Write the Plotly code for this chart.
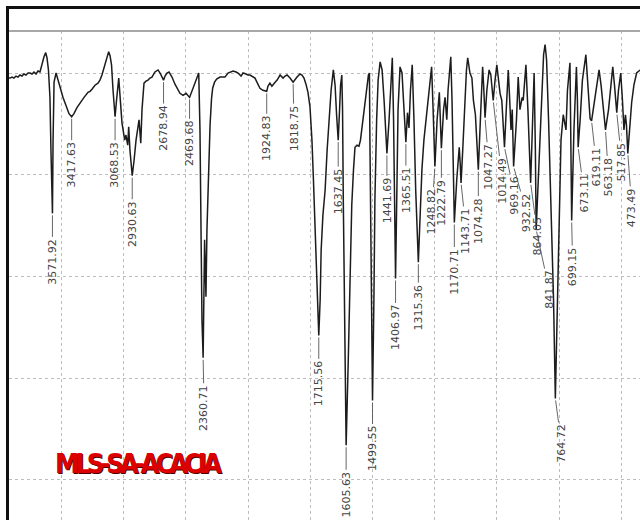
import numpy as np
import plotly.graph_objects as go

# FT-IR spectrum: wavenumber (cm-1) and transmittance (%T), high to low wavenumber
wavenumber = [
    3921, 3913, 3897, 3881, 3865, 3849, 3833, 3817, 3801, 3785, 3768, 3752, 3736, 3720,
    3704, 3688, 3672, 3656, 3640, 3626, 3616, 3604, 3592, 3584, 3571.92, 3567, 3559, 3543,
    3527, 3511, 3487, 3463, 3439, 3417.63, 3399, 3375, 3350, 3318, 3286, 3270, 3254, 3230,
    3206, 3190, 3174, 3158, 3141, 3120, 3109, 3097, 3085, 3068.53, 3057, 3039, 3029, 3013,
    2991, 2981, 2967, 2959, 2949, 2930.63, 2916, 2900, 2876, 2862, 2852, 2844, 2836, 2820,
    2804, 2788, 2772, 2748, 2731, 2723, 2707, 2678.94, 2667, 2651, 2635, 2611, 2587, 2571,
    2547, 2522, 2498, 2469.68, 2450, 2426, 2396, 2386, 2378, 2370, 2360.71, 2354, 2349, 2343,
    2338, 2330, 2317, 2305, 2293, 2284, 2269, 2252, 2225, 2185, 2161, 2145, 2120, 2096,
    2080, 2056, 2040, 2016, 2000,
    1992, 1972, 1952, 1940, 1924.83, 1920, 1912, 1904, 1891, 1883, 1871, 1859, 1851, 1843,
    1831, 1823, 1818.75, 1803, 1791, 1783, 1775, 1767, 1759, 1751, 1743, 1737, 1731, 1725,
    1715.56, 1710, 1706, 1699, 1690, 1682, 1674, 1666, 1657, 1650, 1644, 1637.45, 1632, 1628,
    1623, 1620, 1617, 1610, 1605.63, 1597, 1590, 1583, 1576, 1570, 1562, 1554, 1548, 1537,
    1526, 1516, 1512, 1510, 1505, 1499.55, 1494, 1490, 1483, 1477, 1469, 1461, 1453, 1447,
    1441.69, 1433, 1425, 1420, 1415, 1411, 1406.97, 1401, 1397, 1389, 1381, 1375, 1365.51,
    1359, 1353, 1347, 1340, 1333, 1326, 1315.36, 1309, 1301, 1293, 1282, 1273, 1262, 1256,
    1248.82, 1240, 1231, 1222.79, 1214, 1208, 1201, 1196, 1185, 1180, 1175, 1170.71, 1161,
    1151, 1147, 1143.71, 1137, 1128, 1122, 1117, 1112, 1108, 1100, 1094, 1086, 1080, 1074.28,
    1066, 1057, 1053, 1047.27, 1040, 1031, 1024, 1014.49, 1007, 1000, 993, 987, 980, 974,
    969.16, 962, 954, 949, 943, 938, 935, 932.52, 921, 914, 907, 898, 894, 883, 875, 869,
    864.05, 856, 850, 845, 841.87, 830, 820, 812, 806, 800, 792, 784, 778, 772, 764.72, 758,
    754, 748, 742, 733, 726, 722, 716, 706, 703, 699.15, 690, 680, 676, 673.11, 665, 656,
    642, 634, 625, 619.11, 609, 599, 589, 581, 572, 567, 563.18, 551, 543, 534, 527, 517.85,
    511, 502, 495, 489, 483, 479, 473.49, 465, 458, 449, 438, 424,
]
transmittance = [
    49.5, 49.5, 49.6, 49.5, 49.7, 49.6, 49.8, 49.7, 49.9, 49.8, 50.0, 50.0, 49.9, 50.1,
    49.9, 50.2, 50.1, 51.0, 51.6, 52.0, 51.5, 50.3, 47.6, 42.4, 36.2, 43.4, 49.1, 50.0,
    49.3, 48.5, 47.6, 46.8, 46.0, 45.7, 46.0, 46.6, 47.1, 47.6, 48.1, 48.2, 48.4, 48.8,
    49.0, 49.3, 49.8, 50.5, 51.1, 52.1, 51.7, 50.8, 48.3, 45.7, 47.3, 49.5, 47.8, 45.1,
    43.4, 43.9, 42.9, 44.7, 42.4, 39.9, 41.4, 43.4, 45.4, 43.1, 46.4, 48.3, 49.0, 49.2,
    49.3, 49.5, 49.6, 50.1, 50.2, 50.3, 50.0, 49.3, 49.7, 50.0, 50.1, 49.6, 48.9, 48.5,
    48.0, 47.8, 48.0, 47.6, 48.2, 49.1, 50.0, 44.4, 34.6, 25.7, 22.0, 27.7, 33.6, 30.6,
    28.0, 34.6, 40.5, 44.9, 47.5, 48.5, 49.1, 49.4, 49.6, 49.6, 50.0, 50.1, 50.2, 50.1,
    50.0, 49.7, 50.0, 49.9, 49.8,
    49.8, 49.5, 48.5, 48.3, 48.2, 48.7, 49.0, 48.7, 49.1, 49.3, 49.8, 49.5, 49.7, 49.8,
    49.5, 49.3, 49.1, 49.6, 49.9, 49.8, 49.5, 48.9, 48.1, 46.7, 43.4, 39.5, 35.5, 30.6,
    24.2, 27.7, 32.6, 36.0, 38.5, 42.4, 45.9, 48.3, 50.3, 48.8, 45.9, 43.4, 46.4, 48.8,
    49.8, 46.4, 37.5, 24.7, 13.4, 21.8, 30.6, 37.0, 40.5, 42.7, 42.9, 42.8, 43.4, 45.4,
    47.8, 49.8, 50.0, 43.4, 32.6, 17.8, 27.7, 37.5, 45.4, 49.3, 51.1, 50.3, 47.3, 44.4,
    42.1, 45.4, 49.8, 51.5, 45.4, 37.5, 29.8, 39.5, 46.4, 50.6, 50.0, 47.3, 43.2,
    46.1, 44.6, 48.3, 50.8, 45.4, 38.5, 31.4, 36.0, 40.5, 43.4, 46.1, 48.3, 50.6, 46.4,
    40.8, 45.4, 48.1, 42.6, 46.4, 47.6, 45.4, 48.3, 51.6, 47.3, 41.4, 35.3, 39.5,
    42.7, 41.0, 39.2, 42.4, 47.3, 50.3, 51.5, 50.8, 50.0, 49.5, 47.3, 45.9, 43.4, 40.5,
    45.4, 50.6, 48.8, 45.6, 48.3, 50.3, 49.8, 47.3, 49.3, 50.8, 49.3, 48.0, 47.3, 44.9,
    42.7, 46.4, 50.3, 47.8, 44.4, 46.4, 43.4, 40.8, 45.4, 49.6, 46.4, 47.6, 47.3, 50.8, 46.4, 41.4,
    39.2, 45.4, 50.0, 42.4, 34.6, 41.4, 48.3, 51.8, 52.8, 51.3, 45.4, 37.5, 34.1, 27.7, 18.0, 24.7,
    29.6, 37.5, 43.4, 45.9, 44.9, 44.4, 48.3, 51.0, 44.4, 35.5, 44.4, 50.6, 47.3, 42.7, 45.4, 49.3,
    51.8, 48.8, 45.5, 45.3, 47.1, 48.8, 50.3, 48.8, 46.7, 45.4, 44.4, 46.4, 48.8, 50.6, 48.8, 46.1,
    48.3, 50.0, 47.3, 44.4, 45.9, 44.9, 42.1, 44.9, 47.1, 48.8, 50.0, 50.3,
]

# Peak-picked band positions (cm-1) and where each rotated label sits (px from the band minimum)
peak_wn = [3571.92, 3417.63, 3068.53, 2930.63, 2678.94, 2469.68, 2360.71, 1924.83, 1818.75,
           1715.56, 1637.45, 1605.63, 1499.55, 1441.69, 1406.97, 1365.51, 1315.36, 1248.82,
           1222.79, 1170.71, 1143.71, 1074.28, 1047.27, 1014.49, 969.16, 932.52, 864.05,
           841.87, 764.72, 699.15, 673.11, 619.11, 563.18, 517.85, 473.49]
label_dx = [0, 0, 0, 0, 0, 0, 1, 0, 1,
            0, 0, 0, 0, 0, 0, 0, 0, -3,
            0, 0, 5, 0, 4, 9, 10, 13, 7,
            13, 6, 1, 6, 5, 3, 5, 4]
label_dy = [48, 48, 48, 48, 48, 46, 50, 47, 46,
            48, 51, 49, 48, 47, 49, 48, 45, 45,
            54, 49, 48, 51, 49, 80, 48, 46, 53,
            60, 45, 46, 46, 46, 47, 49, 54]

SAMPLE = "MLS-SA-ACACIA"


def chart_pos(wn):
    """Expanded IR abscissa: 500 cm-1 per division above 2000, 250 cm-1 below."""
    wn = np.asarray(wn, dtype=float)
    return np.where(wn >= 2000, (4000 - wn) / 500, 4 + (2000 - wn) / 250)


W, H = 640, 520
ML, MT = 9, 31
trans_at = dict(zip(wavenumber, transmittance))

fig = go.Figure()
fig.add_trace(go.Scatter(
    x=chart_pos(wavenumber), y=transmittance, mode="lines",
    line=dict(color="#1c1c1c", width=1.5), hoverinfo="skip", showlegend=False,
))

annotations = []
for wn, dx, dy in zip(peak_wn, label_dx, label_dy):
    annotations.append(dict(
        x=float(chart_pos(wn)), y=trans_at[wn], xref="x", yref="y",
        text=f"{wn:.2f}", textangle=-90, showarrow=True, arrowhead=0,
        arrowwidth=0.9, arrowcolor="#555555", ax=dx, ay=dy, standoff=2,
        font=dict(family="DejaVu Sans", size=11, color="#444444"),
    ))

# sample name stamped on the chart in tall, tightly packed red capitals
annotations.append(dict(
    x=(138 - ML) / (W - ML), y=(H - 463) / (H - MT), xref="paper", yref="paper",
    text=f"<span style='letter-spacing:-4px'>{SAMPLE}</span>",
    showarrow=False, xanchor="center", yanchor="middle",
    font=dict(family="DejaVu Sans Condensed", size=27, weight="bold", color="#dd0000",
              shadow="1px 1px 0px #4a0000"),
))

plot_w, plot_h = W - ML, H - MT
shapes = [
    # outer frame of the report page
    dict(type="line", xref="paper", yref="paper", x0=(7 - ML) / plot_w, x1=1.02,
         y0=(H - 7.5) / plot_h, y1=(H - 7.5) / plot_h, line=dict(color="#111111", width=3)),
    dict(type="line", xref="paper", yref="paper", x0=(7.5 - ML) / plot_w, x1=(7.5 - ML) / plot_w,
         y0=-0.05, y1=(H - 6) / plot_h, line=dict(color="#111111", width=3)),
    # top edge of the plotting area
    dict(type="line", xref="paper", yref="paper", x0=0, x1=1.02, y0=1, y1=1,
         line=dict(color="#a8a8a8", width=2)),
]

axis_common = dict(showticklabels=False, ticks="", showgrid=True, gridcolor="#bdbdbd",
                   griddash="dot", gridwidth=1, zeroline=False, showline=False, fixedrange=True)
fig.update_layout(
    width=W, height=H, margin=dict(l=ML, r=0, t=MT, b=0),
    paper_bgcolor="white", plot_bgcolor="white",
    xaxis=dict(range=[float(chart_pos(3921.2)), float(chart_pos(424.5))],
               tickvals=list(range(1, 11)), **axis_common),
    yaxis=dict(range=[6.05, 54.13], tickvals=[10, 20, 30, 40, 50], **axis_common),
    annotations=annotations, shapes=shapes, showlegend=False,
)

fig.write_html("out.html")
